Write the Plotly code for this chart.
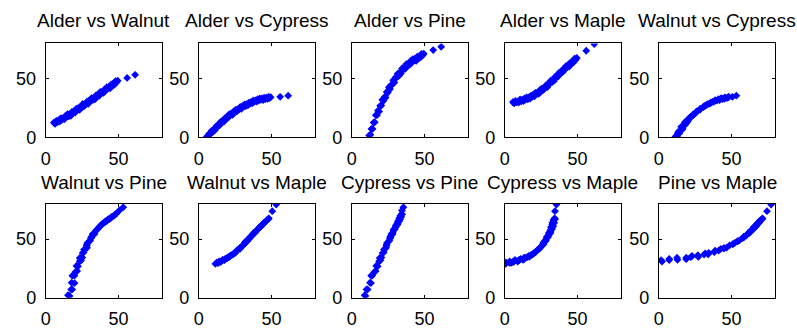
import plotly.graph_objects as go

# Samples of the five variables (one entry per observation)
alder = [5.6, 6.4, 7.3, 8.1, 8.8, 9.6, 10.5, 11.2, 12.0, 12.8, 13.5, 14.3, 15.0, 15.8, 16.5, 17.3,
         18.0, 18.8, 19.5, 20.3, 21.0, 21.8, 22.5, 23.3, 24.0, 24.8, 25.5, 26.3, 27.0, 27.8, 28.5,
         29.3, 30.0, 30.8, 31.5, 32.3, 33.0, 33.8, 34.5, 35.3, 36.0, 36.8, 37.5, 38.3, 39.0, 39.8,
         40.5, 41.3, 42.0, 42.8, 43.5, 44.3, 45.0, 45.8, 46.5, 47.3, 48.0, 48.8, 49.5, 56.0, 61.5]
walnut = [12.5, 11.4, 14.0, 13.0, 14.5, 13.3, 16.4, 15.1, 16.4, 15.3, 18.2, 17.5, 19.8, 17.8, 19.7, 18.3,
          21.6, 20.4, 22.2, 21.1, 24.4, 23.4, 25.1, 23.4, 26.1, 25.4, 28.4, 26.3, 28.3, 28.2, 30.5,
          28.6, 31.3, 31.0, 33.4, 31.6, 33.6, 32.3, 35.7, 34.7, 36.7, 35.4, 38.6, 37.5, 39.0, 37.9,
          40.9, 39.9, 42.7, 41.7, 43.2, 41.8, 45.1, 43.8, 45.7, 44.9, 47.9, 46.9, 48.2, 50.6, 53.3]
cypress = [0.7, 0.6, 3.3, 3.2, 5.5, 4.5, 7.0, 6.2, 9.4, 8.9, 10.9, 10.1, 13.2, 12.5, 14.0, 13.3,
           16.4, 15.5, 17.8, 16.8, 19.7, 18.8, 20.4, 19.2, 22.0, 21.2, 23.6, 22.1, 24.0, 23.8, 25.8,
           24.2, 26.6, 26.2, 28.0, 26.5, 28.2, 27.2, 29.6, 28.7, 30.2, 28.9, 31.4, 30.4, 31.5, 30.4,
           32.5, 31.3, 33.1, 32.0, 33.1, 31.8, 33.9, 32.6, 33.7, 32.7, 34.6, 33.4, 34.2, 34.5, 35.5]
pine = [-25.0, -22.0, -19.0, -16.0, -13.0, -10.0, -6.0, -3.2, 1.5, 2.2, 7.1, 7.1, 12.5, 12.8, 18.8, 18.8,
        22.8, 21.9, 26.8, 27.1, 31.9, 31.1, 34.3, 33.9, 38.7, 38.1, 42.6, 41.1, 44.6, 44.9, 48.6,
        46.7, 51.0, 50.8, 54.1, 52.3, 55.4, 54.3, 58.5, 57.5, 60.2, 58.4, 62.3, 61.1, 63.1, 61.8,
        65.1, 63.6, 66.7, 65.4, 67.1, 65.3, 68.8, 67.1, 69.2, 68.1, 71.2, 69.9, 71.3, 74.4, 77.2]
maple = [30.1, 28.9, 31.0, 29.7, 30.7, 29.7, 32.2, 30.7, 32.1, 30.8, 33.1, 32.1, 34.1, 32.4, 34.1, 32.9,
         35.6, 34.6, 36.3, 34.8, 37.9, 36.8, 38.3, 37.0, 40.1, 38.9, 41.7, 40.2, 42.2, 42.2, 44.6,
         42.8, 45.7, 45.7, 48.2, 46.8, 49.0, 48.1, 51.5, 50.8, 53.0, 52.0, 55.3, 54.6, 56.3, 55.5,
         58.6, 57.7, 60.6, 59.9, 61.5, 60.3, 63.7, 62.5, 64.6, 64.0, 67.1, 66.2, 67.7, 73.8, 79.5]

series = {"Alder": alder, "Walnut": walnut, "Cypress": cypress, "Pine": pine, "Maple": maple}
pairs = [("Alder", "Walnut"), ("Alder", "Cypress"), ("Alder", "Pine"), ("Alder", "Maple"),
         ("Walnut", "Cypress"), ("Walnut", "Pine"), ("Walnut", "Maple"), ("Cypress", "Pine"),
         ("Cypress", "Maple"), ("Pine", "Maple")]
tick_values = [0, 50]
axis_range = [0, 80]

W, H = 797, 329
col_left = [41, 195, 349, 503, 658]
box_w = 117
row_top = [45, 211]
box_h = 97
title_y = [21, 189]

fig = go.Figure()
fam = "Liberation Sans, Arial, sans-serif"
tfont = dict(family=fam, size=18, color="black")
annotations = []
for i, (xa, ya) in enumerate(pairs):
    r, c = divmod(i, 5)
    n = i + 1
    xname = "x" if n == 1 else f"x{n}"
    yname = "y" if n == 1 else f"y{n}"
    fig.add_trace(go.Scatter(x=series[xa], y=series[ya], mode="markers", xaxis=xname, yaxis=yname,
                             marker=dict(symbol="diamond", size=6, color="#0000ff", line=dict(width=0)),
                             showlegend=False, cliponaxis=True))
    x0 = col_left[c] / W
    x1 = (col_left[c] + box_w) / W
    y1 = (H - row_top[r]) / H
    y0 = (H - row_top[r] - box_h) / H
    common = dict(range=axis_range, tickvals=tick_values, ticks="inside", ticklen=3, tickcolor="black",
                  showline=True, linecolor="black", linewidth=1, mirror="ticks", showgrid=False,
                  zeroline=False, tickfont=tfont, ticklabelstandoff=5, fixedrange=True)
    fig.update_layout(**{
        ("xaxis" if n == 1 else f"xaxis{n}"): dict(domain=[x0, x1], anchor=yname, **common),
        ("yaxis" if n == 1 else f"yaxis{n}"): dict(domain=[y0, y1], anchor=xname, **common),
    })
    annotations.append(dict(text=f"{xa} vs {ya}", x=(x0 + x1) / 2, y=(H - title_y[r]) / H,
                            xref="paper", yref="paper", xanchor="center", yanchor="middle",
                            showarrow=False, font=dict(family=fam, size=19, color="black")))

fig.update_layout(width=W, height=H, margin=dict(l=0, r=0, t=0, b=0),
                  paper_bgcolor="white", plot_bgcolor="white", annotations=annotations)
fig.write_html("out.html", config={"displayModeBar": False},
               post_script="document.body.style.margin='0px';")
